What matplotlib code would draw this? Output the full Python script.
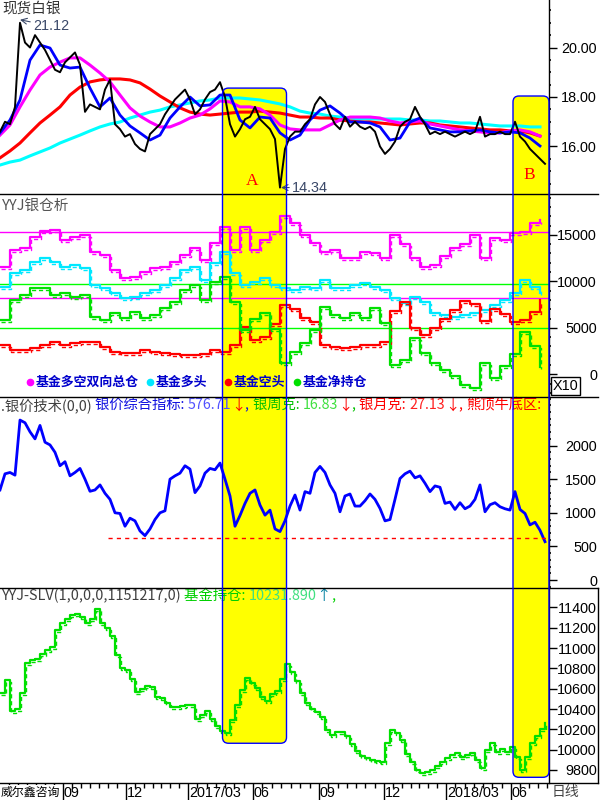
import numpy as np
import matplotlib
matplotlib.use('Agg')
import matplotlib.pyplot as plt
from matplotlib.patches import FancyBboxPatch
from matplotlib.lines import Line2D
from matplotlib.transforms import ScaledTranslation, IdentityTransform
from matplotlib.ticker import FixedLocator, MultipleLocator, FormatStrFormatter

plt.rcParams['font.family'] = ['Noto Sans CJK SC', 'DejaVu Sans']

# ---- 数据 (交易日序号) ----
day5 = np.arange(0, 550, 5)
day10 = np.arange(0, 550, 10)

# 现货白银 收盘
price = [16.6, 17.0, 16.9, 17.6, 21.0, 20.2, 20.0, 20.5, 20.2, 19.9,
         19.5, 19.1, 19.0, 19.4, 19.6, 19.8, 19.3, 17.4, 17.7, 17.6,
         17.5, 18.3, 18.7, 16.9, 16.7, 16.4, 16.5, 16.1, 15.9, 15.8,
         16.5, 16.7, 16.9, 17.3, 17.6, 17.9, 18.1, 18.3, 17.9, 17.3,
         17.5, 17.9, 18.2, 18.3, 18.6, 18.0, 16.9, 16.4, 16.7, 17.1,
         17.2, 17.6, 17.1, 16.9, 16.7, 16.3, 14.34, 15.9, 16.4, 16.6,
         16.6, 16.9, 17.1, 17.7, 18.0, 17.8, 17.3, 16.9, 16.7, 17.2,
         16.8, 17.0, 16.8, 16.7, 16.8, 16.6, 16.0, 15.7, 15.9, 16.2,
         16.8, 17.0, 17.1, 17.6, 17.2, 16.9, 16.5, 16.6, 16.5, 16.6,
         16.5, 16.4, 16.5, 16.6, 16.5, 16.6, 17.2, 16.4, 16.5, 16.5,
         16.6, 16.5, 16.5, 17.0, 16.4, 16.2, 15.9, 15.7, 15.5, 15.3]
ma_blue = [16.55, 17.07, 17.88, 19.49, 20.10, 19.98, 19.29, 19.17, 19.21, 18.36,
           17.60, 17.96, 17.27, 16.83, 16.55, 16.26, 16.46, 17.15, 17.60, 18.00,
           17.64, 17.68, 18.08, 18.08, 17.07, 16.75, 17.19, 17.15, 16.55, 16.26,
           16.46, 17.07, 17.47, 17.64, 17.35, 16.99, 16.99, 16.95, 16.79, 16.26,
           16.34, 16.99, 17.15, 16.75, 16.67, 16.59, 16.59, 16.63, 16.67, 16.59,
           16.55, 16.59, 16.55, 16.34, 16.02]
ma_magenta = [16.46, 16.87, 17.60, 18.28, 18.89, 19.21, 19.41, 19.58, 19.58, 19.29,
              18.97, 18.61, 18.08, 17.56, 17.23, 16.99, 16.79, 16.79, 16.95, 17.15,
              17.27, 17.52, 17.84, 17.80, 17.60, 17.60, 17.52, 17.27, 16.87, 16.71,
              16.67, 16.67, 16.67, 16.87, 17.07, 17.19, 17.19, 17.19, 17.15, 17.03,
              16.95, 16.99, 17.03, 16.91, 16.83, 16.75, 16.67, 16.63, 16.59, 16.55,
              16.55, 16.63, 16.67, 16.59, 16.42]
ma_red = [15.54, 15.82, 16.14, 16.55, 16.95, 17.27, 17.60, 18.08, 18.40, 18.61,
          18.69, 18.73, 18.73, 18.69, 18.57, 18.32, 18.04, 17.80, 17.56, 17.39,
          17.31, 17.27, 17.31, 17.35, 17.39, 17.39, 17.43, 17.39, 17.35, 17.27,
          17.19, 17.19, 17.15, 17.15, 17.07, 17.03, 16.99, 16.99, 16.95, 16.91,
          16.87, 16.91, 16.95, 16.95, 16.87, 16.83, 16.79, 16.75, 16.71, 16.67,
          16.67, 16.63, 16.63, 16.55, 16.42]
ma_cyan = [15.25, 15.37, 15.45, 15.62, 15.78, 15.94, 16.14, 16.30, 16.46, 16.63,
           16.79, 16.91, 16.99, 17.15, 17.27, 17.39, 17.47, 17.60, 17.68, 17.76,
           17.84, 17.88, 17.96, 17.96, 17.96, 17.92, 17.88, 17.80, 17.72, 17.60,
           17.43, 17.35, 17.31, 17.23, 17.19, 17.15, 17.11, 17.11, 17.11, 17.11,
           17.11, 17.07, 17.07, 17.03, 17.03, 16.99, 16.95, 16.95, 16.91, 16.87,
           16.83, 16.83, 16.83, 16.79, 16.79]

# YYJ银仓析 (周数据)
fund_total = [11570, 13360, 13540, 14790, 15440, 15510, 14440, 14790, 14970, 13180,
              12820, 11210, 10320, 10490, 11030, 11390, 11570, 12100, 12820, 13540,
              12290, 14080, 15800, 13360, 15870, 13360, 14440, 15330, 17000, 16230,
              14970, 14080, 13180, 13360, 12470, 12470, 13180, 13010, 12500, 15000,
              14000, 12500, 11500, 11800, 12700, 13600, 14000, 14970, 12470, 14620,
              14440, 15150, 15330, 16230, 16590]
fund_long = [9420, 10860, 11210, 12100, 12470, 12100, 11570, 11750, 11390, 9600,
             9245, 8710, 8170, 8340, 8710, 9060, 9600, 10320, 11210, 11570,
             10140, 11930, 13200, 10860, 9600, 9950, 10320, 9600, 9245, 9060,
             9420, 9245, 10140, 9245, 9245, 9600, 9780, 9400, 9060, 8170,
             7630, 8340, 7800, 6560, 6370, 6190, 6400, 6560, 6910, 7450,
             7990, 8710, 10140, 9420, 8710]
fund_short = [3150, 2610, 2610, 2800, 3150, 3500, 3150, 3330, 3500, 3500,
              2970, 2430, 2260, 2260, 2610, 2430, 2260, 2180, 2070, 2070,
              2180, 2610, 2430, 3150, 5100, 3690, 4040, 5400, 7500, 7000,
              6020, 5650, 3150, 2970, 2800, 2970, 3150, 3150, 3500, 6800,
              7800, 5000, 4200, 5000, 6000, 6900, 7900, 7600, 5700, 7000,
              6500, 5600, 5800, 6700, 7990]
fund_net = [5840, 7990, 8530, 9245, 9300, 8530, 8710, 8340, 8530, 6190,
            5840, 6560, 6020, 6730, 6020, 6370, 7095, 7800, 9060, 9600,
            7990, 9950, 10500, 7800, 4760, 5900, 6600, 4900, 1200, 2400,
            3330, 4760, 7200, 6370, 6020, 6560, 6020, 7095, 5500, 1000,
            1500, 3870, 2300, 1200, 500, -200, -1200, -1500, 1200, -400,
            900, 2200, 4600, 3000, 820]
total_levels = [15300, 8200]
net_levels = [9700, 5000]

# 银价综合指标
tech_index = [1340, 1580, 1600, 1560, 2380, 2340, 2205, 2100, 2300, 2050,
              2010, 1900, 1700, 1760, 1550, 1600, 1660, 1500, 1320, 1340,
              1415, 1290, 1200, 1000, 990, 800, 920, 880, 730, 660,
              760, 900, 1000, 1030, 1500, 1550, 1590, 1700, 1650, 1300,
              1400, 1590, 1660, 1640, 1740, 1500, 1250, 800, 960, 1140,
              1290, 1340, 1115, 965, 1040, 760, 720, 880, 1100, 1265,
              1040, 1315, 1290, 1600, 1690, 1600, 1415, 1290, 1015, 1250,
              1280, 1100, 1100, 1180, 1280, 1200, 1065, 880, 900, 1200,
              1510, 1580, 1620, 1520, 1550, 1440, 1315, 1400, 1380, 1140,
              1160, 1050, 1150, 1060, 1100, 1200, 1415, 1015, 1120, 1150,
              1090, 1060, 1040, 1315, 1050, 990, 820, 860, 740, 570]
bottom_line = 620
bottom_line_start = 108

# SLV 持仓
slv = [10555, 10685, 10380, 10400, 10560, 10850, 10880, 10890, 10940, 10980,
       11013, 11180, 11250, 11290, 11330, 11340, 11308, 11243, 11290, 11380,
       11243, 11200, 11120, 10930, 10800, 10780, 10700, 10570, 10600, 10630,
       10620, 10521, 10510, 10460, 10423, 10423, 10430, 10440, 10440, 10300,
       10341, 10380, 10300, 10230, 10180, 10165, 10292, 10440, 10587, 10702,
       10660, 10610, 10520, 10480, 10550, 10580, 10700, 10840, 10760, 10680,
       10555, 10456, 10400, 10370, 10325, 10190, 10144, 10177, 10170, 10130,
       10060, 9990, 9940, 9920, 9900, 9890, 9882, 10063, 10194, 10160,
       10100, 9960, 9882, 9800, 9770, 9780, 9800, 9840, 9882, 9920,
       9950, 9964, 9931, 9950, 9964, 9900, 9816, 10000, 10070, 9980,
       10010, 9980, 10030, 9930, 9800, 9930, 10063, 10130, 10200, 10260]

# 月份刻度
month_pos = [63, 126, 188, 253, 319, 384, 446, 511]
month_lab = ['09', '12', '2017/03', '06', '09', '12', '2018/03', '06']

# 标注区域 A / B
region_name = ['A', 'B']
region_days = [(222.5, 286.5), (513, 549)]
region_top = [18.36, 18.04]
region_bottom = [10063, 9728]
region_label_y = [14.62, 14.83]

W, H = 600, 800
fig = plt.figure(figsize=(6, 8), dpi=100)
fig.patch.set_facecolor('white')


def fx(x):
    return x / W


def fy(y):
    return 1 - y / H


def make_ax(top, bottom):
    ax = fig.add_axes([0, fy(bottom), fx(549), (bottom - top) / H])
    ax.set_facecolor('none')
    for s in ax.spines.values():
        s.set_visible(False)
    ax.set_xlim(0, 549)
    ax.set_xticks([])
    return ax


def right_axis(ax, major, minor, fmt):
    ax.yaxis.tick_right()
    ax.yaxis.set_major_locator(FixedLocator(major))
    ax.yaxis.set_major_formatter(FormatStrFormatter(fmt))
    ax.tick_params(axis='y', which='major', direction='out', length=5.5, width=1,
                   pad=29, labelsize=10.4, labelfontfamily='Liberation Sans')
    if minor:
        ax.yaxis.set_minor_locator(MultipleLocator(minor))
        ax.tick_params(axis='y', which='minor', direction='out', length=1.5, width=1.2)
    plt.setp(ax.yaxis.get_majorticklabels(), ha='right')


ax1 = make_ax(0, 193.5)
ax2 = make_ax(193.5, 397)
ax3 = make_ax(397, 588)
ax4 = make_ax(588, 783)
ax5 = make_ax(783, 800)

ax1.set_ylim(14.10, 21.92)
ax2.set_ylim(-2441, 19442)
ax3.set_ylim(-119, 2723)
ax4.set_ylim(9672, 11591)
ax5.set_ylim(0, 1)
ax5.set_yticks([])

right_axis(ax1, [16, 18, 20], 0.5, '%.2f')
right_axis(ax2, [0, 5000, 10000, 15000], 1000, '%d')
right_axis(ax3, [0, 500, 1000, 1500, 2000], 100, '%d')
right_axis(ax4, np.arange(9800, 11500, 200), None, '%d')

# ---- 面板1 现货白银 ----
ax1.plot(day10, ma_cyan, color='#00FFFF', lw=2.2)
ax1.plot(day10, ma_red, color='#FF0000', lw=2.2)
ax1.plot(day10, ma_magenta, color='#FF00FF', lw=2.2)
ax1.plot(day10, ma_blue, color='#0000FF', lw=2)
ax1.plot(day5, price, color='black', lw=1.4)
gray_blue = '#3a4868'
ax1.annotate('21.12', xy=(20, 21.12), xytext=(33, 20.87), ha='left', va='center',
             color=gray_blue, fontsize=10.4, family='Liberation Sans',
             arrowprops=dict(arrowstyle='->', color=gray_blue, lw=0.8, shrinkA=0, shrinkB=0))
ax1.annotate('14.34', xy=(281, 14.34), xytext=(292, 14.34), ha='left', va='center',
             color=gray_blue, fontsize=10.4, family='Liberation Sans',
             arrowprops=dict(arrowstyle='->', color=gray_blue, lw=0.8, shrinkA=0, shrinkB=0))
for name, (d0, d1), ly in zip(region_name, region_days, region_label_y):
    ax1.text((d0 + d1) / 2 - 2, ly, name, color='red', fontsize=12.5,
             family='Liberation Serif', ha='center', va='center')
ax1.text(2, 21.55, '现货白银', color='#333333', fontsize=10.5, ha='left', va='center')

# ---- 面板2 YYJ银仓析 ----
off = ScaledTranslation(1 / 100, -2 / 100, fig.dpi_scale_trans)
for lv in total_levels:
    ax2.axhline(lv, color='#FF00FF', lw=1)
for lv in net_levels:
    ax2.axhline(lv, color='#00FF00', lw=1)
for vals, c in [(fund_total, '#FF00FF'), (fund_long, '#00E8FF'),
                (fund_short, '#FF0000'), (fund_net, '#00E000')]:
    ax2.step(day10, vals, where='post', color=c, lw=1.6)
    ax2.step(day10, vals, where='post', color=c, lw=1, ls=(0, (3, 2)),
             transform=ax2.transData + off)
ax2.text(2, 18100, 'YYJ银仓析', color='#555555', fontsize=10.5, ha='left', va='center')

legend = [('基金多空双向总仓', '#FF00FF', 30), ('基金多头', '#00E8FF', 150),
          ('基金空头', '#FF0000', 228), ('基金净持仓', '#00E000', 297)]
for lab, c, x in legend:
    fig.add_artist(Line2D([fx(x)], [fy(382)], marker='o', ms=4.5, color=c,
                          transform=fig.transFigure))
    fig.text(fx(x + 6), fy(382), lab, color='#0000CC', fontsize=9.3,
             fontweight='bold', ha='left', va='center')
fig.text(fx(553), fy(386), 'X10', color='black', fontsize=10.4, family='Liberation Sans',
         ha='left', va='center',
         bbox=dict(boxstyle='square,pad=0.12', fc='white', ec='black', lw=1))

# ---- 面板3 银价技术 ----
ax3.plot(day5, tech_index, color='#0000FF', lw=2)
ax3.hlines(bottom_line, bottom_line_start, 549, color='#FF0000', lw=1, linestyles=(0, (3, 3)))


def chain(ax, x, y, pieces, size=10):
    t = ax.text(x, y, pieces[0][0], color=pieces[0][1], fontsize=size,
                ha='left', va='center')
    for s, c in pieces[1:]:
        t = ax.annotate(s, xy=(1, 0.5), xycoords=t, color=c, fontsize=size,
                        ha='left', va='center', annotation_clip=False)


chain(ax3, 1, 2600, [('.银价技术(0,0) ', '#404040'), ('银价综合指标: ', '#1010E0'),
                     ('576.71', '#5050FF'), ('↓', '#FF0000'), (', ', '#1010E0'),
                     ('银周克: ', '#00C000'), ('16.83', '#40E040'), ('↓', '#FF0000'),
                     (', ', '#00C000'), ('银月克: ', '#FF0000'), ('27.13', '#FF2020'),
                     ('↓', '#FF0000'), (', ', '#FF0000'), ('熊顶牛底区:', '#FF0000')],
      size=10.3)

# ---- 面板4 SLV ----
ax4.step(day5, slv, where='post', color='#00E000', lw=1.6)
ax4.step(day5, slv, where='post', color='#00E000', lw=1, ls=(0, (3, 2)),
         transform=ax4.transData + off)
chain(ax4, 1, 11510, [('YYJ-SLV(1,0,0,0,1151217,0) ', '#404040'), ('基金持仓: ', '#00D000'),
                      ('10231.890', '#40E080'), ('↑', '#0080A0'), (',', '#00D000')],
      size=10.4)

# ---- 底部日期轴 ----
ax5.vlines(month_pos, 0, 1, color='black', lw=1)
minor = []
for a, b in zip(month_pos[:-1], month_pos[1:]):
    minor += list(np.linspace(a, b, 8)[1:-1])
minor += list(np.arange(month_pos[0] - 9, 0, -9))
minor += list(np.arange(month_pos[-1] + 9, 549, 9))
ax5.vlines(minor, 0.72, 1, color='black', lw=1)
for p, lab in zip(month_pos, month_lab):
    ax5.text(p + 1, 0.42, lab, fontsize=10.4, family='Liberation Sans',
             color='black', ha='left', va='center')
fig.text(fx(1), fy(792), '威尔鑫咨询', fontsize=8.6, color='black', ha='left', va='center',
         bbox=dict(boxstyle='square,pad=0.05', fc='white', ec='none'), zorder=5)
fig.text(fx(552), fy(792), '日线', fontsize=10, color='#444444', ha='left', va='center')

# ---- 分隔线 ----
for y in [193.5, 397, 588, 783]:
    fig.add_artist(Line2D([fx(0), fx(598)], [fy(y), fy(y)], color='black', lw=1,
                          transform=fig.transFigure))
fig.add_artist(Line2D([fx(549), fx(549)], [fy(0), fy(783)], color='black', lw=1,
                      transform=fig.transFigure))
fig.add_artist(Line2D([fx(598), fx(598)], [fy(588), fy(783)], color='black', lw=1,
                      transform=fig.transFigure))

# ---- 黄色区域 ----
for (d0, d1), top, bot in zip(region_days, region_top, region_bottom):
    x0, y1 = ax1.transData.transform((d0, top))
    x1, y0 = ax4.transData.transform((d1, bot))
    for fill, z in [(True, -1), (False, 10)]:
        p = FancyBboxPatch((x0, y0), x1 - x0, y1 - y0,
                           boxstyle='round,pad=0,rounding_size=6',
                           transform=IdentityTransform(),
                           fc='#FFFF00' if fill else 'none',
                           ec='none' if fill else '#0000FF', lw=1, zorder=z)
        fig.add_artist(p)

fig.savefig('out.png', dpi=100)
